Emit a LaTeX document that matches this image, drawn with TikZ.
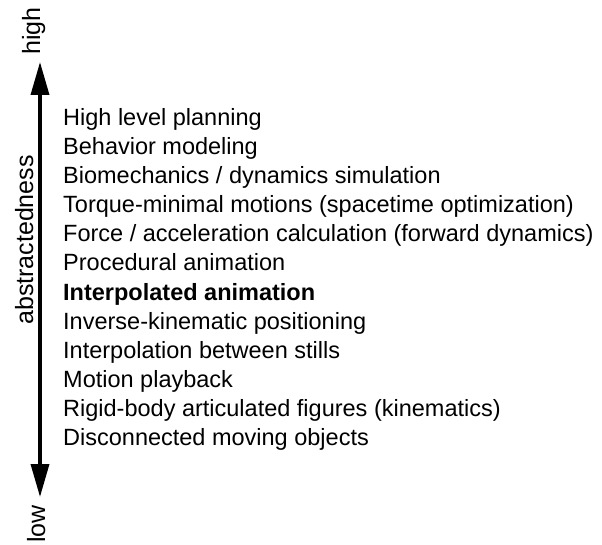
\documentclass[tikz,border=0pt]{standalone}
\usepackage{fontspec}
\setmainfont{Liberation Sans}
\usetikzlibrary{arrows.meta}
\newlength{\du}
\setlength{\du}{1pt}
\tikzset{
  itemtext/.style={anchor=base west,inner sep=0pt,font=\fontsize{23.5}{28}\selectfont},
  axistext/.style={rotate=90,anchor=base,inner sep=0pt,font=\fontsize{25}{30}\selectfont},
  axisline/.style={line width=3.5pt,{Triangle[length=33pt,width=18pt]}-{Triangle[length=33pt,width=18pt]}}
}
\begin{document}
\begin{tikzpicture}
\useasboundingbox (0\du,0\du) rectangle (602\du,-545\du);
% axis
\coordinate (top) at (40\du,-62\du);
\coordinate (bottom) at (40\du,-497\du);
\draw[axisline] (bottom)--(top);
\node[axistext] (high) at (40\du,-31\du){high};
\node[axistext] (low) at (45\du,-524\du){low};
\node[axistext] (abstr) at (33\du,-240\du){abstractedness};
% levels
\node[itemtext] (planning) at (63\du,-126\du){High level planning};
\node[itemtext] (behavior) at (63\du,-155\du){Behavior modeling};
\node[itemtext] (biomech) at (63\du,-184\du){Biomechanics / dynamics simulation};
\node[itemtext] (torque) at (63\du,-213\du){Torque-minimal motions (spacetime optimization)};
\node[itemtext] (force) at (63\du,-242\du){Force / acceleration calculation (forward dynamics)};
\node[itemtext] (procedural) at (63\du,-271\du){Procedural animation};
\node[itemtext] (interp) at (63\du,-300\du){\bfseries Interpolated animation};
\node[itemtext] (inverse) at (63\du,-329\du){Inverse-kinematic positioning};
\node[itemtext] (stills) at (63\du,-358\du){Interpolation between stills};
\node[itemtext] (playback) at (63\du,-387\du){Motion playback};
\node[itemtext] (rigid) at (63\du,-416\du){Rigid-body articulated figures (kinematics)};
\node[itemtext] (disconn) at (63\du,-445\du){Disconnected moving objects};
\end{tikzpicture}
\end{document}
